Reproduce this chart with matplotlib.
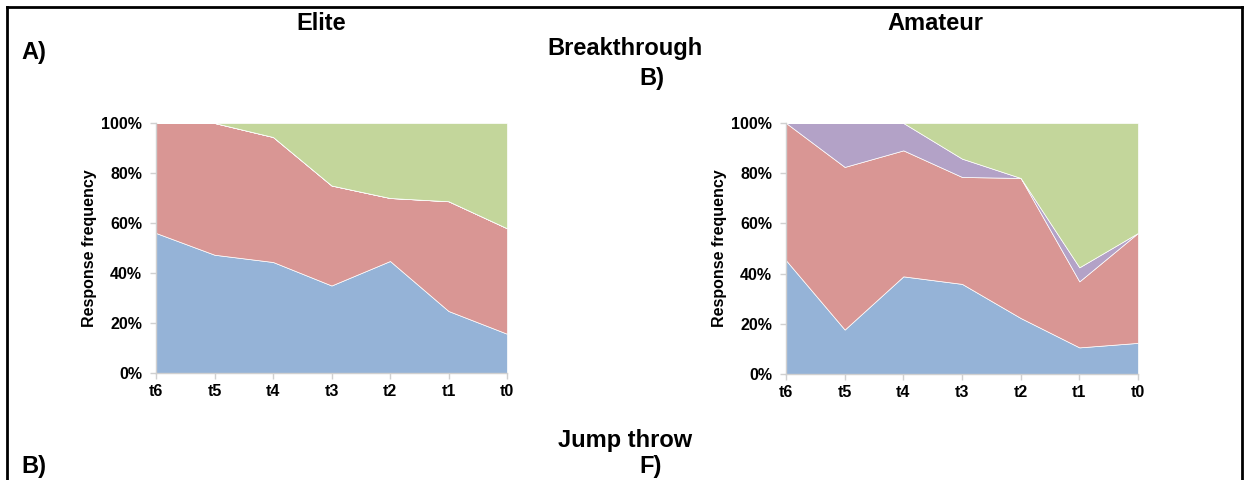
import matplotlib
matplotlib.use("Agg")
import matplotlib.pyplot as plt
from matplotlib.lines import Line2D
import numpy as np

plt.rcParams['font.family'] = ['Liberation Sans', 'DejaVu Sans']
plt.rcParams['font.weight'] = 'bold'

categories = ["t6", "t5", "t4", "t3", "t2", "t1", "t0"]

# Elite (percent of responses)
elite_blue = [56.0, 47.3, 44.4, 35.0, 44.8, 24.8, 15.7]
elite_red = [44.0, 52.7, 50.0, 40.0, 25.2, 43.9, 42.2]
elite_purple = [0, 0, 0, 0, 0, 0, 0]
elite_green = [0, 0, 5.6, 25.0, 30.0, 31.3, 42.1]

# Amateur (percent of responses)
amateur_blue = [45.3, 17.7, 38.9, 35.9, 22.3, 10.6, 12.4]
amateur_red = [54.7, 64.8, 50.2, 42.6, 55.8, 26.3, 43.8]
amateur_purple = [0, 17.5, 10.9, 7.3, 0, 5.6, 0]
amateur_green = [0, 0, 0, 14.2, 21.9, 57.5, 43.8]

colors = ["#95B3D7", "#D99694", "#B3A2C7", "#C3D69B"]

W, H = 1244, 480
fig = plt.figure(figsize=(W / 100, H / 100), dpi=100)


def fx(px):
    return px / W


def fy(py):
    return 1 - py / H


def draw(ax, series):
    x = np.arange(len(categories))
    ax.stackplot(x, *series, colors=colors, edgecolor="white", linewidth=0.5)
    ax.set_xlim(0, len(categories) - 1)
    ax.set_ylim(0, 100)
    ax.set_xticks(x)
    ax.set_xticklabels(categories, fontsize=11.5, fontweight="bold")
    ax.set_yticks(np.arange(0, 101, 20))
    ax.set_yticklabels([f"{v}%" for v in range(0, 101, 20)], fontsize=11.5, fontweight="bold")
    for s in ["top", "right"]:
        ax.spines[s].set_visible(False)
    for s in ["left", "bottom"]:
        ax.spines[s].set_color("#D0D0D0")
        ax.spines[s].set_linewidth(1.0)
    ax.tick_params(axis="both", colors="#D0D0D0", labelcolor="black", length=4, width=1)
    ax.tick_params(axis="y", pad=6)
    ax.tick_params(axis="x", pad=4)
    ax.set_ylabel("Response frequency", fontsize=11.5, fontweight="bold", labelpad=3)


ax1 = fig.add_axes([fx(156), fy(373), fx(507) - fx(156), fy(123) - fy(373)])
draw(ax1, [elite_blue, elite_red, elite_purple, elite_green])

ax2 = fig.add_axes([fx(786), fy(374), fx(1138) - fx(786), fy(123) - fy(374)])
draw(ax2, [amateur_blue, amateur_red, amateur_purple, amateur_green])

# Frame
fig.add_artist(Line2D([fx(7), fx(7)], [fy(7), fy(485)], color="black", lw=2, transform=fig.transFigure))
fig.add_artist(Line2D([fx(7), fx(1242)], [fy(7), fy(7)], color="black", lw=2, transform=fig.transFigure))
fig.add_artist(Line2D([fx(1242), fx(1242)], [fy(7), fy(485)], color="black", lw=2, transform=fig.transFigure))

tkw = dict(fontsize=17, fontweight="bold", va="center")
fig.text(fx(321), fy(23), "Elite", ha="center", **tkw)
fig.text(fx(935), fy(23), "Amateur", ha="center", **tkw)
fig.text(fx(625), fy(49), "Breakthrough", ha="center", **tkw)
fig.text(fx(21), fy(53), "A)", ha="left", **tkw)
fig.text(fx(639), fy(79), "B)", ha="left", **tkw)
fig.text(fx(625), fy(440), "Jump throw", ha="center", **tkw)
fig.text(fx(21), fy(467), "B)", ha="left", **tkw)
fig.text(fx(639), fy(467), "F)", ha="left", **tkw)

fig.savefig("out.png", dpi=100)
